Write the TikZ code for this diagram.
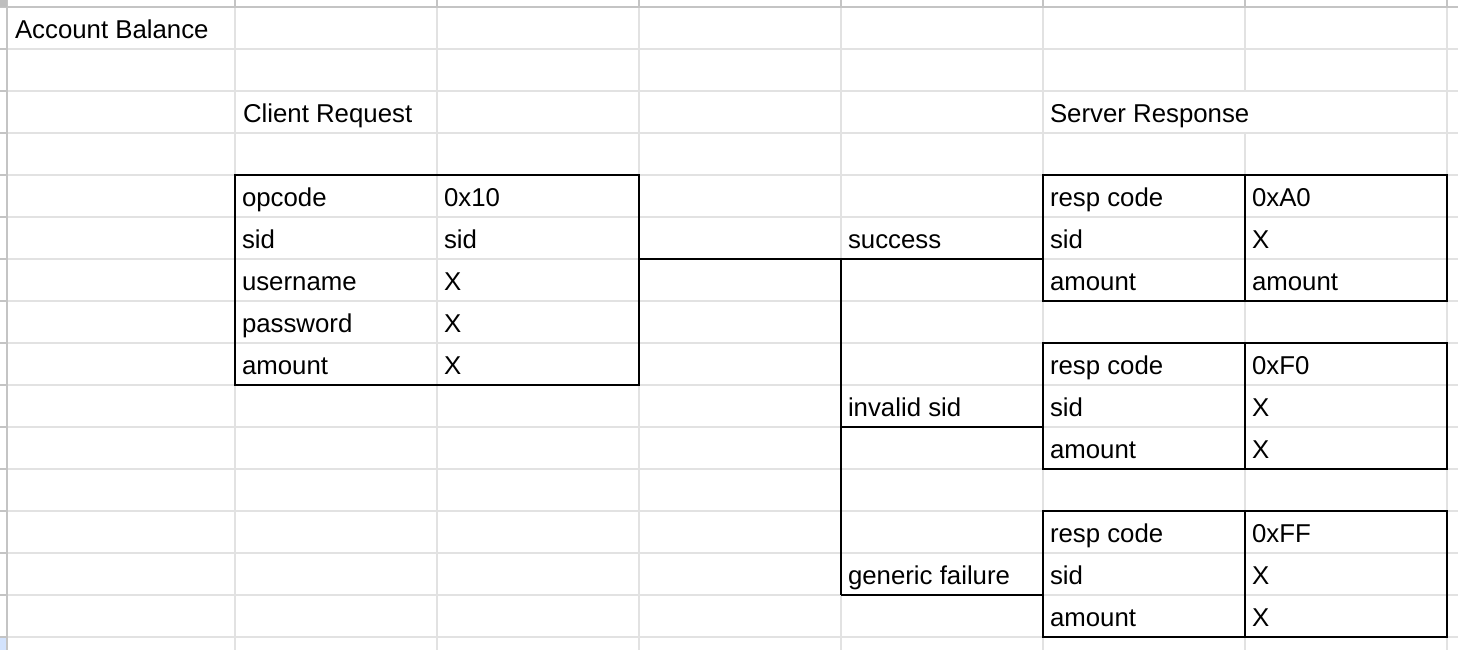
\documentclass[tikz,border=0pt]{standalone}
\usepackage{fontspec}
\setmainfont{Liberation Sans}
\definecolor{gridc}{RGB}{226,226,226}
\definecolor{hdrc}{RGB}{196,196,196}
\definecolor{cornerc}{RGB}{190,190,190}
\definecolor{selc}{RGB}{211,227,253}
\begin{document}
\begin{tikzpicture}[x=1pt,y=-1pt,
  txt/.style={anchor=base west, inner sep=0pt, outer sep=0pt, font=\fontsize{25.8pt}{30pt}\selectfont},
  box/.style={draw=black, line width=2pt, inner sep=0pt, outer sep=0pt, anchor=north west, minimum width=404pt},
  wire/.style={draw=black, line width=2pt},
  gl/.style={draw=gridc, line width=1.7pt},
  hl/.style={draw=hdrc, line width=2pt}]
\useasboundingbox (0,0) rectangle (1458,650);
\fill[white] (0,0) rectangle (1458,650);
% header strips
\fill[selc] (0,638) rectangle (6,650);
% grid: vertical lines
\foreach \x in {235,437,639,841,1043,1447} {
  \draw[gl] (\x,7) -- (\x,650);
  \draw[hl] (\x,0) -- (\x,7);
}
\draw[gl] (1245,7) -- (1245,91);
\draw[gl] (1245,133) -- (1245,650);
\draw[hl] (1245,0) -- (1245,7);
% grid: horizontal lines
\foreach \y in {49,91,133,175,217,259,301,343,385,427,469,511,553,595,637} {
  \draw[gl] (7,\y) -- (1458,\y);
  \draw[hl] (0,\y) -- (7,\y);
}
\draw[hl] (0,7) -- (1458,7);
\draw[hl] (7,0) -- (7,650);
\fill[cornerc] (0,0) rectangle (7,7);

% tables
\node[box, minimum height=210pt] (req) at (235,175) {};
\node[box, minimum height=126pt] (ok) at (1043,175) {};
\node[box, minimum height=126pt] (bad) at (1043,343) {};
\node[box, minimum height=126pt] (fail) at (1043,511) {};
\draw[wire] (ok.north) -- (ok.south);
\draw[wire] (bad.north) -- (bad.south);
\draw[wire] (fail.north) -- (fail.south);

% connectors
\coordinate (j1) at (841,259);
\coordinate (j2) at (841,427);
\coordinate (j3) at (841,595);
\draw[wire] (req.east |- j1) -- (ok.west |- j1);
\draw[wire] (j1) -- (j3);
\draw[wire] (j2) -- (bad.west |- j2);
\draw[wire] (j3) -- (fail.west |- j3);

% titles
\node[txt] (title) at (15,38.5) {Account Balance};
\node[txt] (creq) at (243,122.5) {Client Request};
\node[txt] (sresp) at (1050,122.5) {Server Response};

% client request
\node[txt] (c1a) at (242,206.5) {opcode};
\node[txt] (c1b) at (444,206.5) {0x10};
\node[txt] (c2a) at (242,248.5) {sid};
\node[txt] (c2b) at (444,248.5) {sid};
\node[txt] (c3a) at (242,290.5) {username};
\node[txt] (c3b) at (444,290.5) {X};
\node[txt] (c4a) at (242,332.5) {password};
\node[txt] (c4b) at (444,332.5) {X};
\node[txt] (c5a) at (242,374.5) {amount};
\node[txt] (c5b) at (444,374.5) {X};

% labels
\node[txt] (lsucc) at (848,248.5) {success};
\node[txt] (linv) at (848,416.5) {invalid sid};
\node[txt] (lgen) at (848,584.5) {generic failure};

% success response
\node[txt] (s1a) at (1050,206.5) {resp code};
\node[txt] (s1b) at (1252,206.5) {0xA0};
\node[txt] (s2a) at (1050,248.5) {sid};
\node[txt] (s2b) at (1252,248.5) {X};
\node[txt] (s3a) at (1050,290.5) {amount};
\node[txt] (s3b) at (1252,290.5) {amount};

% invalid sid response
\node[txt] (b1a) at (1050,374.5) {resp code};
\node[txt] (b1b) at (1252,374.5) {0xF0};
\node[txt] (b2a) at (1050,416.5) {sid};
\node[txt] (b2b) at (1252,416.5) {X};
\node[txt] (b3a) at (1050,458.5) {amount};
\node[txt] (b3b) at (1252,458.5) {X};

% generic failure response
\node[txt] (f1a) at (1050,542.5) {resp code};
\node[txt] (f1b) at (1252,542.5) {0xFF};
\node[txt] (f2a) at (1050,584.5) {sid};
\node[txt] (f2b) at (1252,584.5) {X};
\node[txt] (f3a) at (1050,626.5) {amount};
\node[txt] (f3b) at (1252,626.5) {X};
\end{tikzpicture}
\end{document}
